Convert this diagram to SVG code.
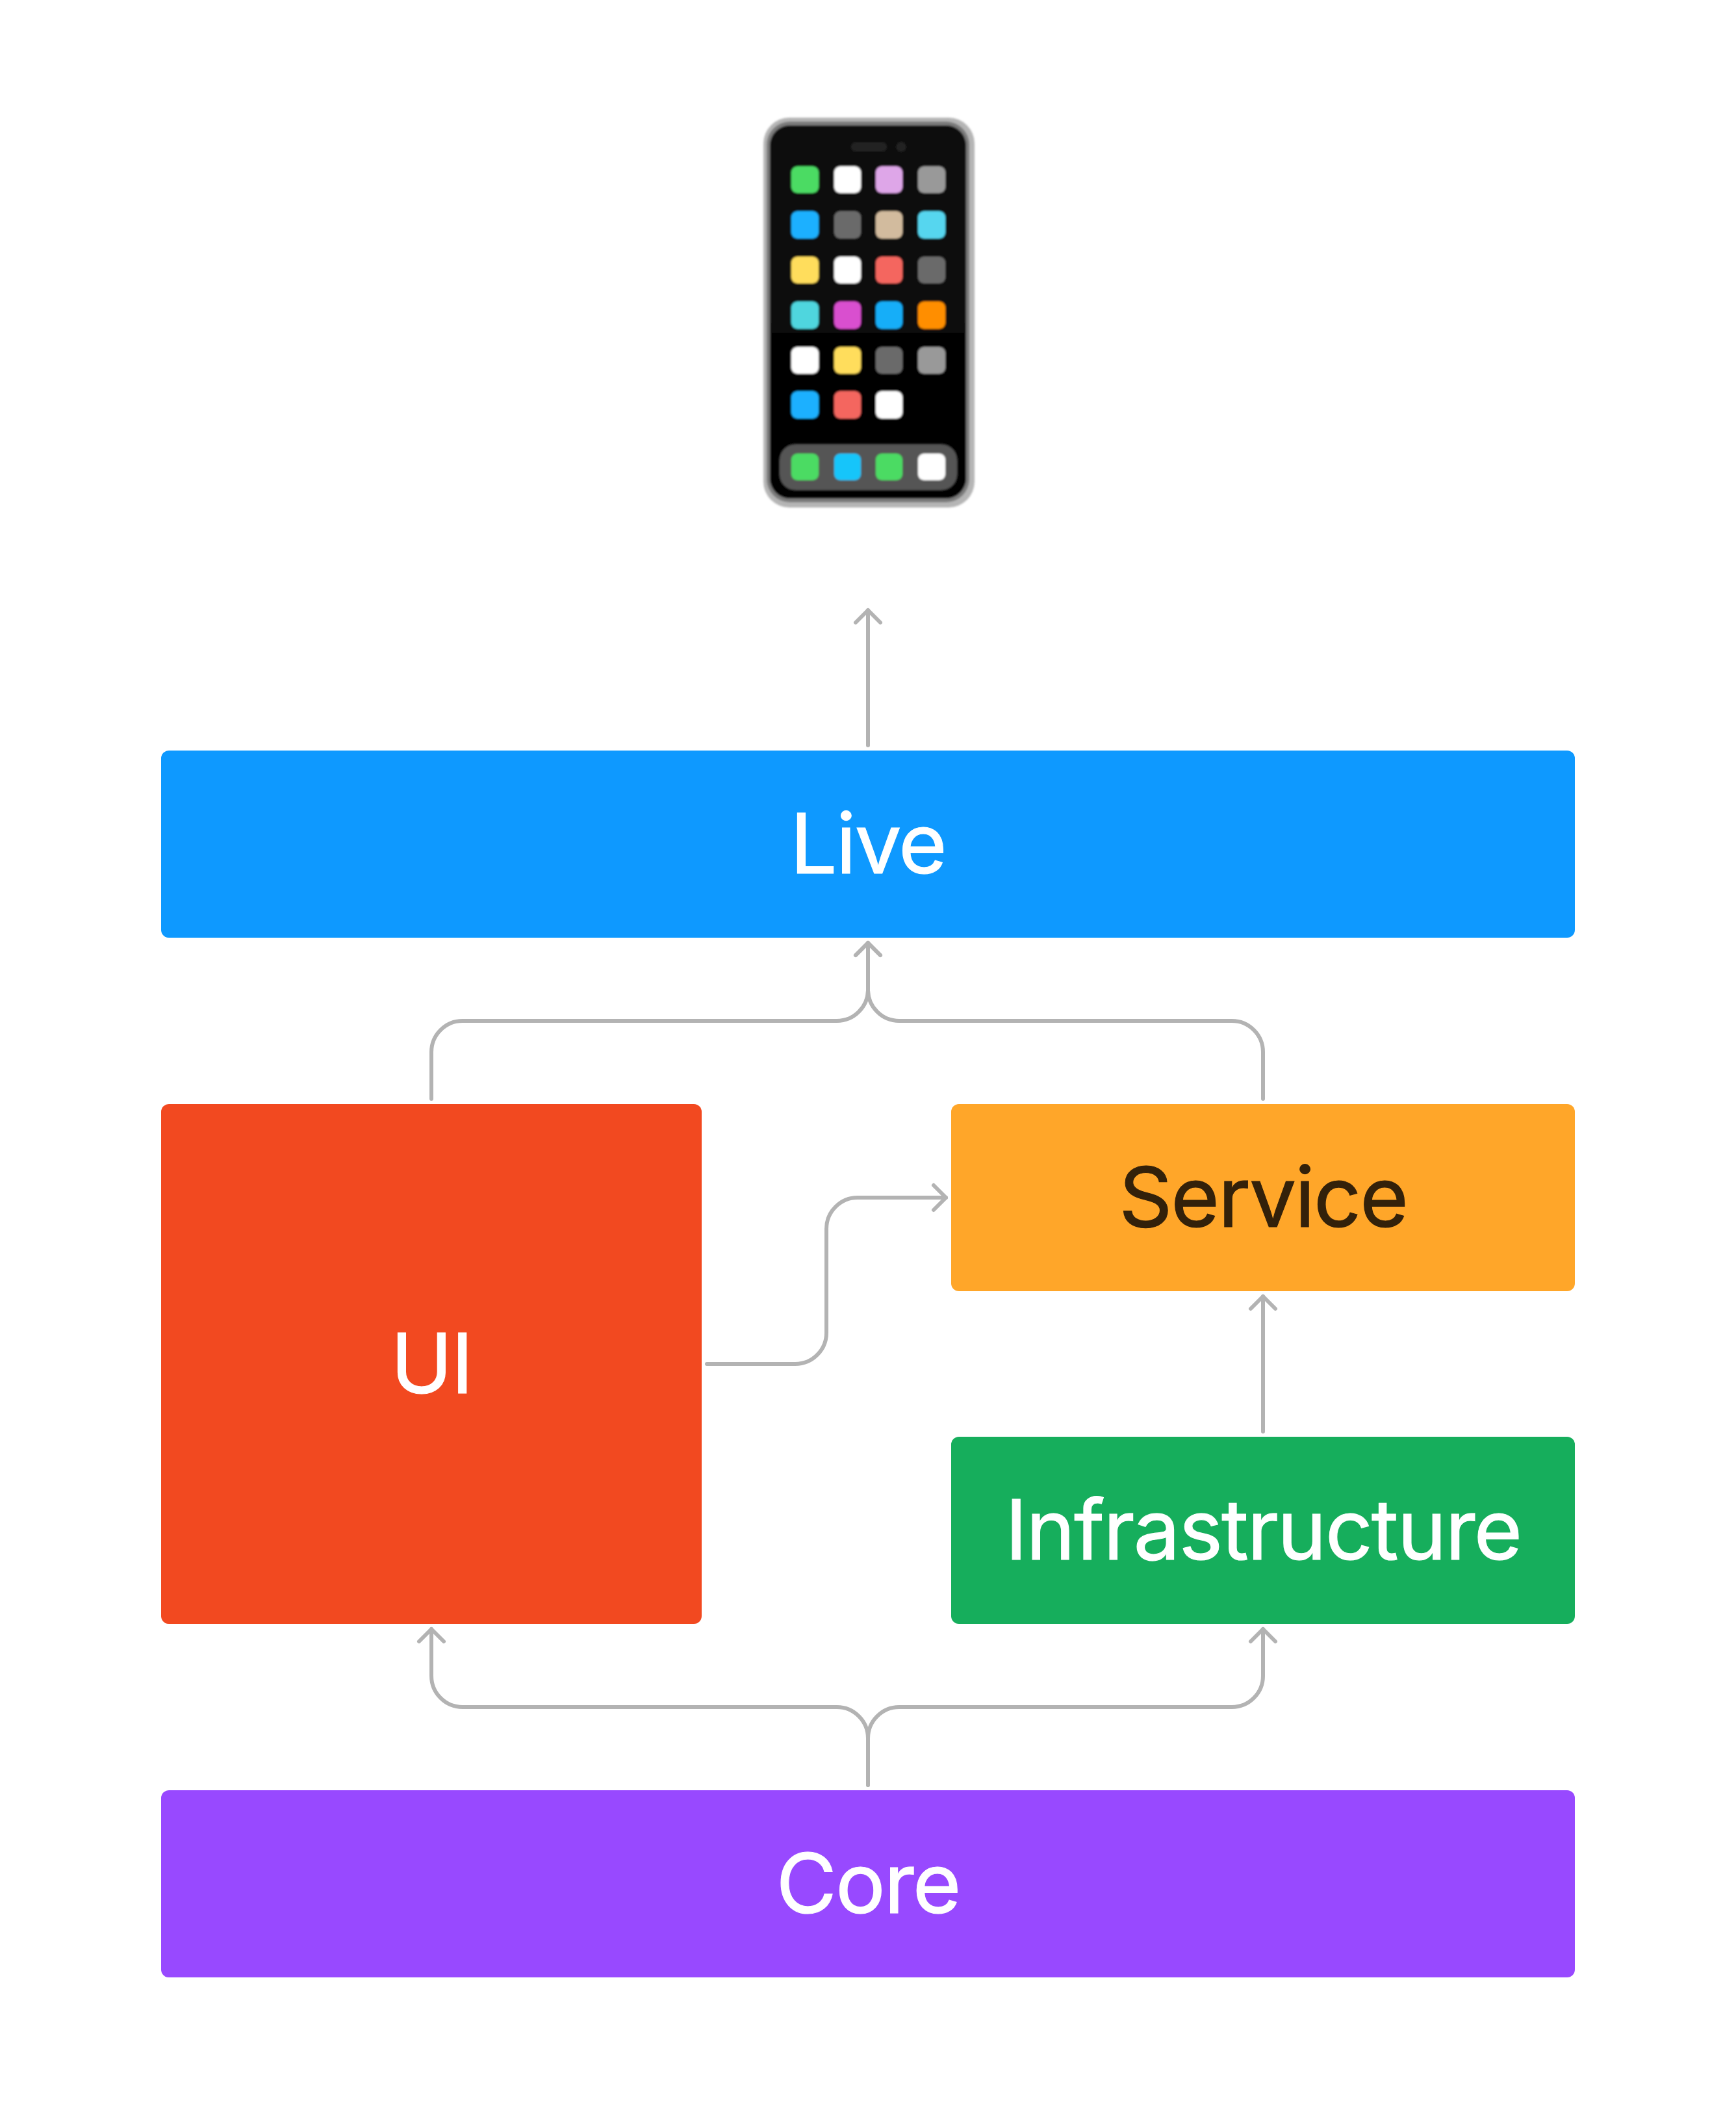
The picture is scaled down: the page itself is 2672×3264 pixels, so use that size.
<svg xmlns="http://www.w3.org/2000/svg" width="2672" height="3264" viewBox="0 0 2672 3264">
<style>
.lbl{font-family:"Inter","Liberation Sans",sans-serif;font-size:128px;letter-spacing:-2px;text-anchor:middle;fill:#fff;stroke:#fff;stroke-width:1.2px}
.dark{fill:#33210a;stroke:#33210a}
.conn{fill:none;stroke:#b3b3b3;stroke-width:6;stroke-linecap:round;stroke-linejoin:round}
.arrow{marker-end:url(#head)}
</style>
<defs>
<marker id="head" markerUnits="userSpaceOnUse" viewBox="-26 -26 52 52" markerWidth="52" markerHeight="52" refX="0" refY="0" orient="auto">
<path d="M-19 -19L0 0L-19 19" fill="none" stroke="#b3b3b3" stroke-width="6" stroke-linecap="round" stroke-linejoin="round"/>
</marker>
<linearGradient id="screen" x1="0" y1="0" x2="0" y2="1"><stop offset="0" stop-color="#0e0e0e"/><stop offset="1" stop-color="#000"/></linearGradient>
<filter id="soft" x="-5%" y="-5%" width="110%" height="110%"><feGaussianBlur stdDeviation="1.5"/></filter>
</defs>
<rect width="2672" height="3264" fill="#fff"/>
<g id="connectors">
<path class="conn arrow" d="M1336 1147V939"/>
<path class="conn arrow" d="M664 1691V1619A48 48 0 0 1 712 1571H1288A48 48 0 0 0 1336 1523V1451"/>
<path class="conn arrow" d="M1944 1691V1619A48 48 0 0 0 1896 1571H1384A48 48 0 0 1 1336 1523V1451"/>
<path class="conn arrow" d="M1088 2099H1224A48 48 0 0 0 1272 2051V1891A48 48 0 0 1 1320 1843H1456"/>
<path class="conn arrow" d="M1944 2203V1995"/>
<path class="conn arrow" d="M1336 2747V2675A48 48 0 0 0 1288 2627H712A48 48 0 0 1 664 2579V2507"/>
<path class="conn arrow" d="M1336 2747V2675A48 48 0 0 1 1384 2627H1896A48 48 0 0 0 1944 2579V2507"/>
</g>
<g id="phone" filter="url(#soft)">
<rect x="1175" y="181" width="325" height="600" rx="40" fill="#b5b5b5"/>
<rect x="1180" y="187" width="312" height="586" rx="36" fill="#7a7a7a"/>
<rect x="1185" y="193" width="302" height="574" rx="31" fill="url(#screen)"/>
<rect x="1310" y="219" width="55" height="14" rx="7" fill="#242424"/>
<circle cx="1387" cy="226" r="7.5" fill="#242424"/>
<rect x="1218" y="256" width="42" height="41" rx="9" fill="#4cdb64"/>
<rect x="1284" y="256" width="41" height="41" rx="9" fill="#fff"/>
<rect x="1348" y="256" width="41" height="41" rx="9" fill="#dea6e8"/>
<rect x="1413" y="256" width="42" height="41" rx="9" fill="#999"/>
<rect x="1218" y="325" width="42" height="42" rx="9" fill="#1bb0ff"/>
<rect x="1284" y="325" width="41" height="42" rx="9" fill="#6b6b6b"/>
<rect x="1348" y="325" width="41" height="42" rx="9" fill="#d2bb9e"/>
<rect x="1413" y="325" width="42" height="42" rx="9" fill="#57d6ef"/>
<rect x="1218" y="395" width="42" height="41" rx="9" fill="#ffdd5c"/>
<rect x="1284" y="395" width="41" height="41" rx="9" fill="#fff"/>
<rect x="1348" y="395" width="41" height="41" rx="9" fill="#f4665f"/>
<rect x="1413" y="395" width="42" height="41" rx="9" fill="#6b6b6b"/>
<rect x="1218" y="464" width="42" height="42" rx="9" fill="#4fd6de"/>
<rect x="1284" y="464" width="41" height="42" rx="9" fill="#d94fcf"/>
<rect x="1348" y="464" width="41" height="42" rx="9" fill="#18aef8"/>
<rect x="1413" y="464" width="42" height="42" rx="9" fill="#ff8e00"/>
<rect x="1218" y="534" width="42" height="41" rx="9" fill="#fff"/>
<rect x="1284" y="534" width="41" height="41" rx="9" fill="#ffdd5c"/>
<rect x="1348" y="534" width="41" height="41" rx="9" fill="#6b6b6b"/>
<rect x="1413" y="534" width="42" height="41" rx="9" fill="#999"/>
<rect x="1218" y="602" width="42" height="42" rx="9" fill="#1bb0ff"/>
<rect x="1284" y="602" width="41" height="42" rx="9" fill="#f4665f"/>
<rect x="1348" y="602" width="41" height="42" rx="9" fill="#fff"/>
<rect x="1200" y="684" width="273" height="70" rx="24" fill="#555"/>
<rect x="1218" y="698" width="42" height="41" rx="9" fill="#4cdb64"/>
<rect x="1284" y="698" width="41" height="41" rx="9" fill="#16c5fa"/>
<rect x="1348" y="698" width="41" height="41" rx="9" fill="#4cdb64"/>
<rect x="1413" y="698" width="42" height="41" rx="9" fill="#fff"/>
</g>
<g id="live"><rect x="248" y="1155" width="2176" height="288" rx="12" fill="#0e99ff"/><text class="lbl" x="1336" y="1344">Live</text></g>
<g id="ui"><rect x="248" y="1699" width="832" height="800" rx="12" fill="#f24920"/><text class="lbl" x="664" y="2144">UI</text></g>
<g id="service"><rect x="1464" y="1699" width="960" height="288" rx="12" fill="#ffa629"/><text class="lbl dark" x="1944" y="1888">Service</text></g>
<g id="infrastructure"><rect x="1464" y="2211" width="960" height="288" rx="12" fill="#16ae5c"/><text class="lbl" x="1944" y="2400">Infrastructure</text></g>
<g id="core"><rect x="248" y="2755" width="2176" height="288" rx="12" fill="#9849ff"/><text class="lbl" x="1336" y="2944">Core</text></g>
</svg>
